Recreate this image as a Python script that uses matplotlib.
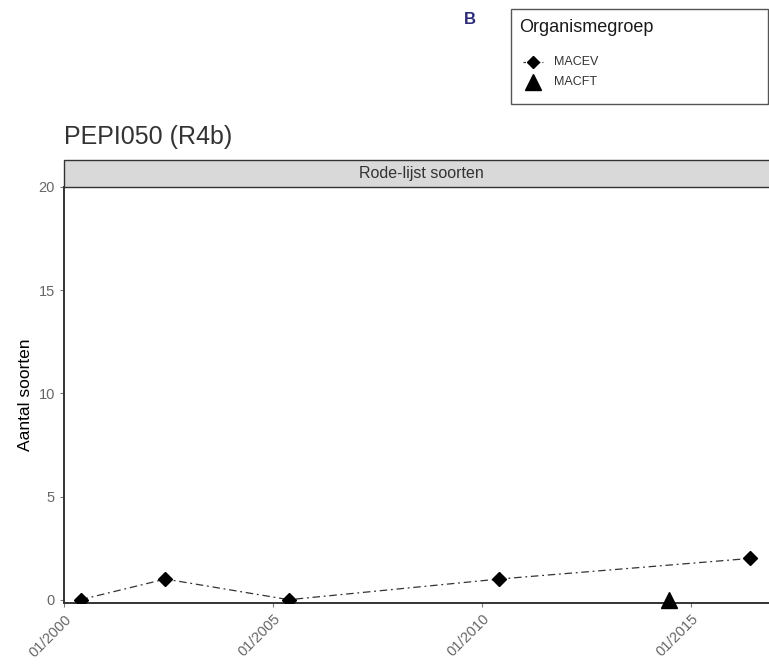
import matplotlib
matplotlib.use("Agg")
import matplotlib.pyplot as plt
import matplotlib.dates as mdates
from matplotlib.patches import Rectangle
from matplotlib.lines import Line2D
import pandas as pd

plt.rcParams["font.family"] = ["Liberation Sans", "DejaVu Sans"]

# data
macev_dates = ["2000-05-25", "2002-06-05", "2005-05-20", "2010-05-28", "2016-06-02"]
macev_vals = [0, 1, 0, 1, 2]
macft_dates = ["2014-06-25"]
macft_vals = [0]
tick_dates = ["2000-01-01", "2005-01-01", "2010-01-01", "2015-01-01"]
y_ticks = [0, 5, 10, 15, 20]

W, H = 769, 664
fig = plt.figure(figsize=(W / 100, H / 100), dpi=100)


def fx(px):
    return px / W


def fy(py):
    return 1 - py / H


# panel, runs a bit past the right edge like the original crop
left, right, top, bottom = 64, 778, 187, 603
ax = fig.add_axes([fx(left), fy(bottom), fx(right - left), fy(top) - fy(bottom)])

dark = "#333333"
ax.plot(pd.to_datetime(macev_dates), macev_vals, color=dark, lw=0.9,
        dashes=[6, 3, 1.5, 3], marker="D", markersize=6.8,
        markerfacecolor="black", markeredgecolor="black", zorder=3)
ax.plot(pd.to_datetime(macft_dates), macft_vals, linestyle="none", marker="^",
        markersize=11, color="black", clip_on=False, zorder=3)

ax.set_xlim(pd.Timestamp("2000-01-01"), pd.Timestamp("2017-02-01"))
ax.set_ylim(-0.16, 20)
ax.set_yticks(y_ticks)
ax.set_xticks(pd.to_datetime(tick_dates))
ax.xaxis.set_major_formatter(mdates.DateFormatter("%m/%Y"))

for s in ["top", "right"]:
    ax.spines[s].set_visible(False)
for s in ["left", "bottom"]:
    ax.spines[s].set_color(dark)
    ax.spines[s].set_linewidth(1.4)
ax.tick_params(axis="both", colors="#777777", labelcolor="#666666",
               labelsize=10.5, length=3, width=0.8)
plt.setp(ax.get_xticklabels(), rotation=45, ha="right", rotation_mode="anchor")
ax.set_ylabel("Aantal soorten", fontsize=12.5, color="black", labelpad=4)

# facet strip
fig.add_artist(Rectangle((fx(left), fy(top)), fx(right - left + 20), fy(160) - fy(top),
                         transform=fig.transFigure, facecolor="#d9d9d9",
                         edgecolor=dark, lw=1))
fig.text(fx((left + right) / 2), fy(173.5), "Rode-lijst soorten", ha="center",
         va="center", fontsize=11.5, color="#333333")

# title
fig.text(fx(64), fy(137), "PEPI050 (R4b)", fontsize=18, color="#333333", va="center")

# panel letter
fig.text(fx(470), fy(20), "B", fontsize=12, fontweight="bold", color="#2b2a78",
         ha="center", va="center")

# legend box
fig.add_artist(Rectangle((fx(511), fy(104)), fx(768 - 511), fy(9) - fy(104),
                         transform=fig.transFigure, facecolor="white",
                         edgecolor="#555555", lw=1))
fig.text(fx(519), fy(27), "Organismegroep", fontsize=13, color="#1a1a1a", va="center")
fig.add_artist(Line2D([fx(523), fx(543)], [fy(62), fy(62)], transform=fig.transFigure,
                      color=dark, lw=0.9, dashes=[2, 1.5, 0.8, 1.5]))
fig.add_artist(Line2D([fx(533)], [fy(62)], transform=fig.transFigure, marker="D",
                      markersize=6, color="black", linestyle="none"))
fig.add_artist(Line2D([fx(533)], [fy(82)], transform=fig.transFigure, marker="^",
                      markersize=11, color="black", linestyle="none"))
fig.text(fx(554), fy(62), "MACEV", fontsize=9, color="#333333", va="center")
fig.text(fx(554), fy(82), "MACFT", fontsize=9, color="#333333", va="center")

fig.savefig("out.png", dpi=100)
